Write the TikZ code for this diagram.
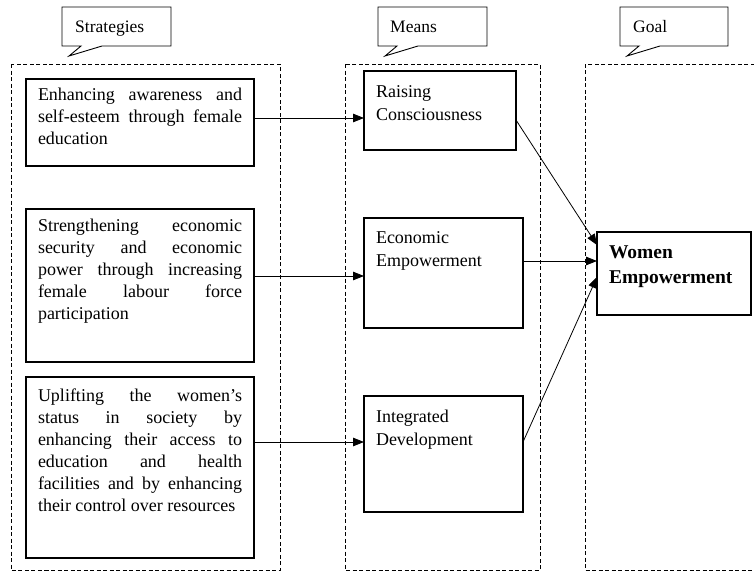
\documentclass[tikz,border=0pt]{standalone}
\usepackage{fontspec}
\setmainfont{Liberation Serif}
\usetikzlibrary{arrows.meta}
\tolerance=10000 \hbadness=10000 \hyphenpenalty=10000
\newcommand{\btext}[4]{\begin{minipage}[t][#2][t]{#1}\vspace*{\dimexpr #3-0.7\baselineskip\relax}\strut #4\end{minipage}}
\begin{document}
\begin{tikzpicture}[x=1pt,y=-1pt,
  solidbox/.style={draw, line width=1.3pt, inner xsep=12pt, inner ysep=0pt, outer sep=0pt, anchor=north west},
  txt/.style={font=\fontsize{18}{22}\selectfont},
  mtxt/.style={font=\fontsize{18}{23}\selectfont},
  gtxt/.style={font=\fontsize{19.5}{25}\selectfont\bfseries},
  ctext/.style={font=\fontsize{17.5}{20}\selectfont, anchor=base west, inner sep=0pt},
  callout/.style={draw, line width=0.9pt, fill=white},
  frame/.style={draw, line width=0.9pt, dash pattern=on 4pt off 2.5pt},
  arr/.style={line width=0.8pt, -{Triangle[length=11pt,width=8.5pt]}}]
\useasboundingbox (0,0) rectangle (754,573);
\fill[white] (0,0) rectangle (754,573);

% dashed containers
\draw[frame] (11,64) rectangle (280,570);
\draw[frame] (345,64) rectangle (540,570);
\draw[frame] (800,64) -- (585,64) -- (585,570) -- (800,570);

% callouts
\draw[callout] (81,46) -- (62,46) -- (62,7) -- (171,7) -- (171,46) -- (102,46) -- (69,56) -- cycle;
\node[ctext] (cstrat) at (75,32) {Strategies};
\draw[callout] (397,46) -- (378,46) -- (378,7) -- (487,7) -- (487,46) -- (418,46) -- (385,56) -- cycle;
\node[ctext] (cmeans) at (390,32) {Means};
\draw[callout] (639,46) -- (620,46) -- (620,7) -- (728,7) -- (728,46) -- (660,46) -- (627,56) -- cycle;
\node[ctext] (cgoal) at (633,32) {Goal};

% strategies
\node[solidbox, txt] (s1) at (26,79) {\btext{204pt}{87pt}{21pt}{Enhancing awareness and\linebreak self-esteem through female\linebreak education}};
\node[solidbox, txt] (s2) at (26,209) {\btext{204pt}{153pt}{22.7pt}{Strengthening economic\linebreak security and economic\linebreak power through increasing\linebreak female labour force\linebreak participation}};
\node[solidbox, txt] (s3) at (26,377) {\btext{204pt}{181pt}{24.7pt}{Uplifting the women’s\linebreak status in society by\linebreak enhancing their access to\linebreak education and health\linebreak facilities and by enhancing\linebreak their control over resources}};

% means
\node[solidbox, mtxt] (m1) at (364,71) {\btext{128pt}{79pt}{26pt}{Raising\\Consciousness}};
\node[solidbox, mtxt] (m2) at (364,218) {\btext{135pt}{110pt}{25pt}{Economic\\Empowerment}};
\node[solidbox, mtxt] (m3) at (364,396) {\btext{135pt}{116pt}{26pt}{Integrated\\Development}};

% goal
\node[solidbox, gtxt] (g) at (597,232) {\btext{130pt}{83pt}{26pt}{Women\\Empowerment}};

% connectors
\draw[arr] (s1.east |- 0,118) -- (m1.west |- 0,118);
\draw[arr] (s2.east |- 0,276) -- (m2.west |- 0,276);
\draw[arr] (s3.east |- 0,442) -- (m3.west |- 0,442);
\draw[arr] (m1.east |- 0,120) -- (g.west |- 0,245);
\draw[arr] (m2.east |- 0,261) -- (g.west |- 0,261);
\draw[arr] (m3.east |- 0,442) -- (g.west |- 0,277);
\end{tikzpicture}
\end{document}
